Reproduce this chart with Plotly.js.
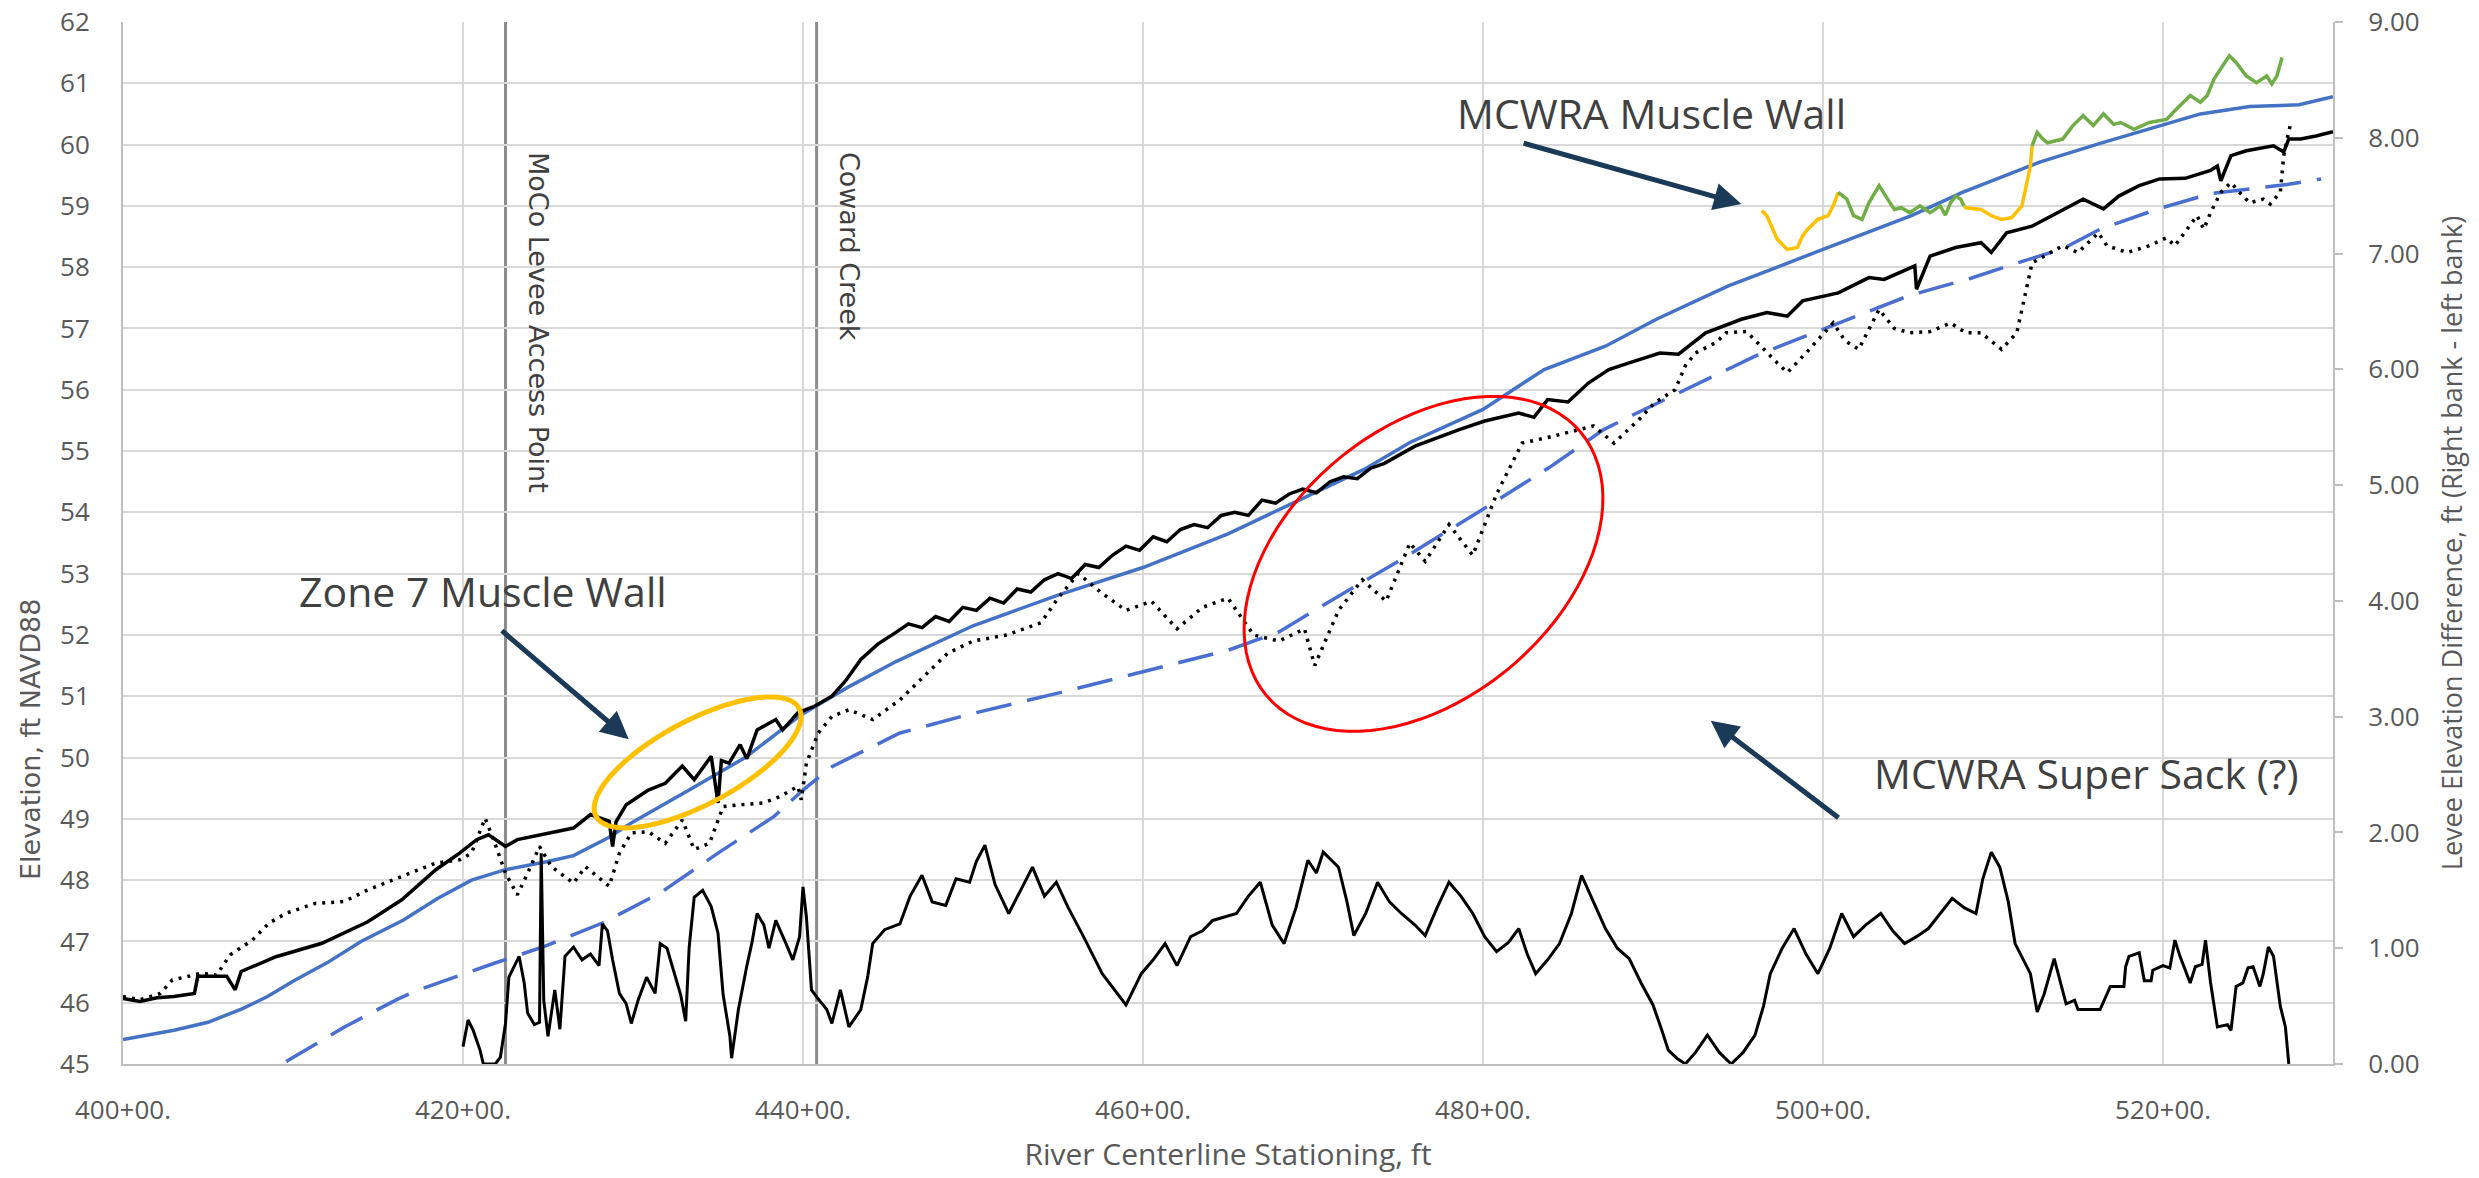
<!DOCTYPE html>
<html><head><meta charset="utf-8">
<script src="https://cdn.plot.ly/plotly-3.0.1.min.js"></script>
<style>html,body{margin:0;padding:0;background:#fff}#chart{width:2479px;height:1178px}</style>
</head><body><div id="chart"></div><script>
// ---------- data (stationing in units of 100 ft; e.g. 420 = 420+00) ----------
const xTickVals = [400, 420, 440, 460, 480, 500, 520];
const xTickText = ["400+00.", "420+00.", "440+00.", "460+00.", "480+00.", "500+00.", "520+00."];

const blueSolidX = [400,403,405,407,408.5,410,412,414,416.5,418.5,420.5,422.5,424.9,426.5,428.6,430,433.3,436.6,439.9,442.6,445.5,448,450,455,460,465,470,473,475.7,480,483.6,487.2,490.2,494.4,500,505.2,508.2,512.7,516.3,519.2,522.2,525.1,528,530];
const blueSolidY = [45.40,45.55,45.68,45.90,46.10,46.35,46.65,47.0,47.35,47.7,48.0,48.17,48.3,48.4,48.7,48.95,49.47,50.0,50.7,51.14,51.57,51.9,52.15,52.65,53.1,53.65,54.3,54.7,55.14,55.68,56.33,56.71,57.15,57.69,58.29,58.84,59.22,59.71,60.02,60.26,60.5,60.62,60.65,60.78];

const blueDashX = [409.6,413,416.1,417.3,421.8,424.8,428.2,431.6,435,438.3,440,441.7,445.7,450,455,460,465,468,471,475,480,484,487.1,488.9,492.8,496.1,499.1,502.1,505.1,508.7,511.1,514.1,516.3,519.7,522.8,527.3,529.3];
const blueDashY = [45.04,45.6,46.05,46.2,46.64,46.92,47.3,47.79,48.44,49.04,49.47,49.85,50.4,50.72,51.05,51.4,51.75,52.05,52.55,53.2,54.05,54.75,55.35,55.6,56.12,56.56,56.89,57.22,57.54,57.82,58.04,58.3,58.62,58.95,59.2,59.35,59.44];

const blackSolidX = [400,401,402,403,404.2,404.4,406.1,406.6,406.95,409,411.7,414.4,416.4,418.4,419.8,420.8,421.5,422.5,423.2,425.2,426.5,427.5,428.6,428.8,429,429.6,430.9,431.9,432.9,433.6,434.6,435,435.2,435.65,436.3,436.7,437.3,438.4,438.8,439.7,440.7,441.7,442.5,443.4,444.4,445.4,446.2,447,447.8,448.6,449.4,450.2,451,451.8,452.6,453.4,454.2,455,455.8,456.6,457.4,458.2,459,459.8,460.6,461.4,462.2,463,463.8,464.6,465.4,466.2,467,467.8,468.6,469.4,470.2,471,471.8,472.6,473.4,474.2,475,476,478.6,480.1,482.1,483,483.8,485,486.2,487.4,488.6,490.4,491.5,493.1,495.2,496.7,497.9,498.8,500.9,502.7,503.6,505.4,505.5,506.3,507.8,509.3,509.9,510.8,512.3,513.8,515.3,516.5,517.4,518.6,519.8,521.3,522.8,523.2,523.4,524,524.9,526.5,527.1,527.4,528.1,529,530];
const blackSolidY = [46.07,46.02,46.08,46.1,46.15,46.43,46.43,46.21,46.51,46.75,46.97,47.32,47.68,48.17,48.44,48.66,48.74,48.55,48.66,48.77,48.85,49.07,48.96,48.55,48.95,49.23,49.47,49.58,49.86,49.64,50.02,49.26,49.95,49.91,50.21,49.98,50.45,50.62,50.45,50.73,50.84,51.0,51.25,51.6,51.85,52.03,52.18,52.12,52.3,52.22,52.45,52.4,52.6,52.52,52.75,52.7,52.9,53.0,52.92,53.15,53.1,53.3,53.45,53.38,53.6,53.52,53.72,53.8,53.75,53.95,54.0,53.95,54.2,54.15,54.3,54.38,54.32,54.5,54.58,54.55,54.72,54.8,54.92,55.08,55.35,55.49,55.62,55.55,55.84,55.8,56.11,56.33,56.44,56.6,56.58,56.93,57.15,57.26,57.2,57.45,57.58,57.83,57.8,58.02,57.64,58.18,58.32,58.4,58.24,58.56,58.67,58.89,59.11,58.95,59.16,59.33,59.44,59.45,59.58,59.65,59.41,59.82,59.9,59.98,59.88,60.09,60.09,60.14,60.21];

const blackDotX = [400,401,402.2,402.9,404.6,405.5,406.3,407.6,408.6,409.6,411.3,413,414.4,416.4,418.4,419.8,420.5,421.3,421.8,422.5,423.2,423.8,424.5,425.2,426.5,427.2,428.6,429.2,429.9,430.9,431.9,432.9,433.6,434.5,435.3,436.3,437.7,438.7,439.7,439.9,440.2,440.9,441.7,442.7,444.1,445.7,447,448.5,450,452,454,455,456.2,457.5,459,460.5,462,463.5,465,466.5,468,469.5,470.1,471.5,472.9,474.3,475.7,476.6,478,479.4,480.8,482.3,484.1,486.5,487.7,489.2,490.1,491.3,491.9,492.5,493.7,494.3,495.5,496.7,497.3,497.9,499,500.6,501.3,502.1,503.3,504.2,505.1,506.3,507.5,508.4,509.3,510.5,511.4,512.3,514.1,515,516.2,516.7,517.9,519.2,520.2,520.7,521.4,522,522.4,522.8,523.4,524,524.5,525.1,525.9,526.3,526.9,527.1,527.3,527.5];
const blackDotY = [46.1,46.05,46.15,46.37,46.48,46.45,46.78,47.02,47.3,47.46,47.62,47.65,47.84,48.06,48.28,48.33,48.44,49.01,48.66,48.11,47.76,48.11,48.55,48.22,47.95,48.22,47.9,48.44,48.77,48.79,48.6,48.98,48.5,48.6,49.2,49.23,49.26,49.37,49.53,49.31,49.91,50.4,50.67,50.78,50.62,50.94,51.3,51.7,51.9,52.0,52.2,52.6,53.0,52.7,52.4,52.55,52.1,52.45,52.6,52.0,51.9,52.1,51.5,52.4,52.9,52.55,53.5,53.2,53.8,53.3,54.3,55.13,55.24,55.41,55.13,55.52,55.79,56.0,56.39,56.6,56.77,56.93,56.95,56.6,56.44,56.28,56.6,57.09,56.8,56.66,57.31,57.0,56.93,56.95,57.09,56.93,56.93,56.66,56.93,58.07,58.35,58.24,58.56,58.35,58.24,58.35,58.48,58.35,58.62,58.84,58.62,58.89,59.22,59.38,59.22,59.05,59.11,59.03,59.22,59.82,60.09,60.33];

const wallYellowX = [496.4,496.7,497.3,497.9,498.5,498.8,499.1,499.7,500.3,500.6,500.9,null,508.3,508.4,509.3,509.9,510.5,511.1,511.7,512.2,512.3];
const wallYellowY = [58.92,58.84,58.46,58.29,58.32,58.51,58.62,58.78,58.84,59.0,59.22,null,59.0,58.97,58.94,58.84,58.78,58.81,59.0,59.65,59.98];

const wallGreenX = [500.9,501.4,501.8,502.3,502.7,503.3,503.8,504.2,504.6,505.1,505.7,506.3,506.9,507.2,507.5,507.8,508.1,508.3,null,512.3,512.6,512.9,513.2,514.1,514.7,515.3,515.9,516.5,517.1,517.5,518.3,519.2,520.2,520.8,521.6,522.2,522.6,523,523.5,523.9,524.3,524.9,525.5,526.1,526.4,526.7,527];
const wallGreenY = [59.22,59.11,58.84,58.78,59.05,59.33,59.11,58.94,58.97,58.89,59.0,58.89,59.0,58.85,59.05,59.16,59.11,59.0,null,59.98,60.2,60.1,60.03,60.09,60.31,60.47,60.31,60.5,60.33,60.36,60.25,60.36,60.41,60.58,60.8,60.69,60.8,61.07,61.29,61.45,61.34,61.12,61.01,61.12,60.99,61.12,61.42];

const bankDiffX = [420,420.3,420.6,421,421.2,421.9,422.2,422.5,422.7,423,423.3,423.6,423.8,424.2,424.5,424.6,424.75,425,425.4,425.7,426,426.5,427,427.5,428,428.2,428.5,428.8,429.2,429.6,429.9,430.3,430.8,431.3,431.6,432,432.4,432.8,433.1,433.3,433.6,434.1,434.6,435,435.3,435.7,435.8,436.2,436.7,437,437.3,437.7,438,438.4,439,439.4,439.8,440,440.2,440.5,440.8,441.4,441.7,442.2,442.7,443.4,443.8,444.1,444.8,445.7,446.3,447,447.6,448.4,449,449.8,450.2,450.7,451.3,452.1,452.8,453.5,454.2,454.9,455.6,456.5,457.6,458.3,459,459.9,460.6,461.3,462,462.8,463.5,464.1,465.5,466.2,466.9,467.6,468.3,469,469.7,470.2,470.6,471.5,472,472.4,473.1,473.8,474.5,475.2,476,476.6,477.3,478,478.7,479.4,480.1,480.8,481.5,482.1,482.6,483.1,483.8,484.5,485.2,485.8,486.5,487.2,487.9,488.6,489.3,490,490.5,490.9,491.4,491.9,492.5,493.2,493.9,494.6,495.3,496,496.5,496.9,497.6,498.3,499,499.7,500.4,501.1,501.8,502.5,503.4,504.1,504.8,505.5,506.2,506.9,507.6,508.3,509,509.4,509.9,510.4,510.9,511.3,511.8,512.2,512.6,513,513.6,514.3,514.8,515,516,516.3,516.9,517.7,517.8,518,518.6,518.9,519.3,519.4,520,520.4,520.7,521,521.6,521.9,522.3,522.5,522.8,523.2,523.8,524,524.3,524.7,525,525.3,525.7,525.9,526.2,526.5,526.9,527.2,527.4];
const bankDiffY = [0.15,0.38,0.29,0.12,0.0,0.0,0.06,0.35,0.75,0.84,0.93,0.70,0.44,0.34,0.36,1.82,0.55,0.24,0.64,0.30,0.93,1.01,0.90,0.95,0.85,1.21,1.15,0.9,0.61,0.52,0.35,0.55,0.75,0.61,1.04,1.0,0.81,0.6,0.37,1.0,1.44,1.50,1.36,1.13,0.6,0.24,0.05,0.47,0.85,1.05,1.30,1.2,1.0,1.24,1.04,0.90,1.1,1.53,1.27,0.64,0.58,0.47,0.35,0.64,0.32,0.47,0.75,1.04,1.16,1.21,1.45,1.63,1.40,1.37,1.6,1.57,1.75,1.89,1.55,1.30,1.5,1.70,1.45,1.57,1.35,1.1,0.78,0.65,0.51,0.78,0.9,1.04,0.85,1.1,1.15,1.24,1.30,1.45,1.57,1.2,1.04,1.35,1.76,1.65,1.83,1.70,1.4,1.11,1.3,1.57,1.4,1.30,1.2,1.11,1.35,1.57,1.45,1.30,1.1,0.97,1.05,1.17,0.95,0.78,0.9,1.04,1.3,1.63,1.4,1.17,1.0,0.91,0.7,0.51,0.3,0.12,0.05,0.0,0.1,0.25,0.1,0.0,0.1,0.25,0.5,0.78,1.0,1.17,0.95,0.78,1.0,1.30,1.1,1.2,1.30,1.15,1.04,1.1,1.17,1.3,1.43,1.35,1.30,1.6,1.83,1.70,1.4,1.04,0.9,0.78,0.45,0.6,0.91,0.52,0.55,0.47,0.47,0.47,0.67,0.67,0.84,0.93,0.96,0.72,0.72,0.81,0.85,0.83,1.07,0.93,0.70,0.84,0.86,1.07,0.70,0.32,0.34,0.29,0.67,0.70,0.83,0.84,0.67,0.78,1.01,0.93,0.50,0.32,0.0];

// reference lines
const refLineX = [422.5, 440.8];
const refLineText = ["MoCo Levee Access Point", "Coward Creek"];

// callouts: text position, arrow tail, arrow head (data units)
const calloutText = ["Zone 7 Muscle Wall", "MCWRA Muscle Wall", "MCWRA Super Sack (?)"];
const calloutX = [421.2, 489.9, 515.5];
const calloutY = [52.72, 60.52, 49.75];
const arrowTailX = [422.2, 482.3, 501.0];
const arrowTailY = [52.09, 60.03, 49.0];
const arrowHeadX = [429.75, 495.2, 493.4];
const arrowHeadY = [50.30, 59.03, 50.6];

// highlight ellipses: centre (data), semi-axes (px), tilt (deg), colour
const ellCx = [433.8, 476.5];
const ellCy = [49.92, 53.16];
const ellA = [115, 205];
const ellB = [42, 135];
const ellDeg = [28, 40];
const ellColor = ["#FFC000", "#FF0000"];
const ellWidth = [5, 3];

// ---------- layout geometry ----------
const W = 2479, H = 1178;
const M = {l: 123, r: 146, t: 22, b: 114};
const xRange = [400, 530], yRange = [45, 62], y2Range = [0, 9];
const kx = (W - M.l - M.r) / (xRange[1] - xRange[0]);
const ky = (H - M.t - M.b) / (yRange[1] - yRange[0]);

function ellipsePath(cx, cy, a, b, deg) {
  const th = deg * Math.PI / 180;
  let d = '';
  for (let i = 0; i <= 90; i++) {
    const t = i / 90 * 2 * Math.PI;
    const dx = a * Math.cos(t) * Math.cos(th) - b * Math.sin(t) * Math.sin(th);
    const dy = a * Math.cos(t) * Math.sin(th) + b * Math.sin(t) * Math.cos(th);
    d += (i ? 'L' : 'M') + (cx + dx / kx).toFixed(4) + ',' + (cy + dy / ky).toFixed(4);
  }
  return d + 'Z';
}

const traces = [
  {x: blueSolidX, y: blueSolidY, mode: 'lines', line: {color: '#4472C4', width: 3.5}, name: 'blue'},
  {x: blueDashX, y: blueDashY, mode: 'lines', line: {color: '#4A6FD0', width: 3.5, dash: '36px,16px'}, name: 'blueDash'},
  {x: blackDotX, y: blackDotY, mode: 'lines', line: {color: '#000000', width: 3.5, dash: '3px,6px'}, name: 'dot'},
  {x: blackSolidX, y: blackSolidY, mode: 'lines', line: {color: '#000000', width: 3.5}, name: 'black'},
  {x: wallYellowX, y: wallYellowY, mode: 'lines', line: {color: '#FFC000', width: 3.5}, connectgaps: false, name: 'wallY'},
  {x: wallGreenX, y: wallGreenY, mode: 'lines', line: {color: '#70AD47', width: 3.5}, connectgaps: false, name: 'wallG'},
  {x: bankDiffX, y: bankDiffY, yaxis: 'y2', mode: 'lines', line: {color: '#000000', width: 3}, name: 'diff'}
];

const shapes = [];
refLineX.forEach(x => shapes.push({type: 'line', xref: 'x', yref: 'paper', x0: x, x1: x, y0: 0, y1: 1, line: {color: '#8C8C8C', width: 3}, layer: 'below'}));
ellCx.forEach((c, i) => shapes.push({type: 'path', xref: 'x', yref: 'y', path: ellipsePath(c, ellCy[i], ellA[i], ellB[i], ellDeg[i]), line: {color: ellColor[i], width: ellWidth[i]}}));

const annotations = [];
refLineX.forEach((x, i) => annotations.push({
  x: x, xref: 'x', xshift: 33, y: (H - M.b - 150) / (H - M.t - M.b), yref: 'paper', yanchor: 'top', xanchor: 'center',
  text: refLineText[i], textangle: 90, showarrow: false,
  font: {family: 'DejaVu Sans', size: 27, color: '#404040'}
}));
calloutText.forEach((t, i) => {
  annotations.push({x: calloutX[i], y: calloutY[i], xref: 'x', yref: 'y', text: t, showarrow: false,
    font: {family: 'Open Sans', size: 41, color: '#404040'}, xanchor: 'center', yanchor: 'middle'});
  annotations.push({x: arrowHeadX[i], y: arrowHeadY[i], ax: arrowTailX[i], ay: arrowTailY[i], xref: 'x', yref: 'y', axref: 'x', ayref: 'y',
    text: '', showarrow: true, arrowhead: 2, arrowsize: 1.1, arrowwidth: 5, arrowcolor: '#1B3A57'});
});
// left axis title (placed as in the source figure, below centre)
annotations.push({x: (30 - M.l) / (W - M.l - M.r), y: (H - M.b - 740) / (H - M.t - M.b), xref: 'paper', yref: 'paper',
  text: 'Elevation, ft NAVD88', textangle: -90, showarrow: false, xanchor: 'center', yanchor: 'middle',
  font: {family: 'DejaVu Sans', size: 27, color: '#595959'}});

const tickFont = {family: 'Open Sans', size: 26, color: '#595959'};
const layout = {
  width: W, height: H, margin: M, paper_bgcolor: '#ffffff', plot_bgcolor: '#ffffff', showlegend: false,
  xaxis: {range: xRange, tickvals: xTickVals, ticktext: xTickText, showgrid: true, gridcolor: '#D9D9D9', gridwidth: 2,
    showline: true, linecolor: '#BFBFBF', linewidth: 2, zeroline: false, ticks: '', tickfont: tickFont, ticklabelstandoff: 22,
    title: {text: 'River Centerline Stationing, ft', font: {family: 'Open Sans', size: 30, color: '#595959'}, standoff: 18}},
  yaxis: {range: yRange, dtick: 1, tick0: 45, showgrid: true, gridcolor: '#D9D9D9', gridwidth: 2, showline: true, linecolor: '#BFBFBF', linewidth: 2,
    zeroline: false, ticks: '', tickfont: tickFont, ticklabelstandoff: 26},
  yaxis2: {range: y2Range, dtick: 1, tick0: 0, overlaying: 'y', side: 'right', showgrid: false, zeroline: false, showline: true,
    linecolor: '#BFBFBF', linewidth: 2, ticks: 'outside', ticklen: 8, tickcolor: '#BFBFBF', tickwidth: 2, tickformat: '.2f', tickfont: tickFont, ticklabelstandoff: 20,
    title: {text: 'Levee Elevation Difference, ft (Right bank - left bank)', font: {family: 'Open Sans', size: 27, color: '#595959'}, standoff: 24}},
  shapes: shapes, annotations: annotations
};
Plotly.newPlot('chart', traces, layout, {staticPlot: true});
</script></body></html>
